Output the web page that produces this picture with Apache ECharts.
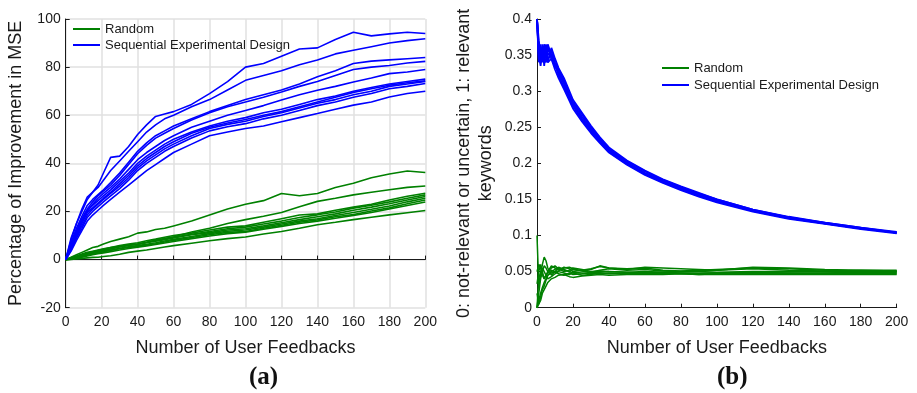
<!DOCTYPE html>
<html><head><meta charset="utf-8">
<script src="https://cdn.jsdelivr.net/npm/echarts@6/dist/echarts.min.js"></script>
<style>html,body{margin:0;padding:0;background:#fff}#c{width:917px;height:393px}</style>
</head><body><div id="c"></div>
<script>
// ---- Panel (a): Percentage of Improvement in MSE ----
const xA = [0,3,6,9,12,15,18,21,25,30,35,40,45,50,55,60,70,80,90,100,110,120,130,140,150,160,170,180,190,200];
const seqA = [
 [0,8,15,21,26,28,31,36,42.5,43,47,52,56,59.5,60.5,61.5,64.5,69,74,80,81.5,84.5,87.5,88,91.5,94.5,93,93.8,94.5,94],
 [0,9,15,20,25,28,30,33,37,41,45,49,53,56,58.5,60,63.5,66.5,70.5,74.5,76.5,78.5,81,83,85.5,87,88.5,90,91,91.8],
 [0,7,13,18,22.5,25,27,29,32,36,40.5,45,48.5,51.5,53.5,55.5,58.5,61.5,64,66.5,68.5,70.5,73,76,78.5,81.5,82.5,83,83.5,84],
 [0,6,12,17,21,24,26.5,28.5,31,35,39.5,44,47.5,50.5,52.5,54.5,58,61,63.5,65.5,67.5,69.7,72,74,76.5,79,80,80.7,81.7,82.4],
 [0,6,11,16,20,23,25.5,27.5,30,33.5,37.5,41.5,44.5,47,49.5,51.5,55,57.5,60,62,64,66.3,68.5,70.4,72,73.8,75.5,77.3,78,79],
 [0,5.5,11,16,20.5,22.5,24.5,26.5,29,32.5,36,40,43,45.5,48,50,53,55.5,57.5,59,61,62.5,64.5,66.5,68,70,71.5,73,74,75],
 [0,5,10,15,19.5,21.5,23.5,25.5,28,31.5,35,39,42,44.5,47,49,52.5,55,56.8,58.2,60,61.5,63.5,65.5,67.5,69.5,71,72.5,73.5,74.3],
 [0,4.5,9.5,14,18.5,21,23,25,27.5,30.5,34,38,41,43.5,46,48,51.5,54.5,56.2,57.5,59.5,61,63,65,66.5,68.5,70,72,73,74],
 [0,4,9,13,17.5,20,22,24,26.5,29.5,33,37,40,42.5,45,47,50.5,53.5,55.2,56.5,58.5,60,62,64,65.5,67.5,69,71,72,73.2],
 [0,3.5,8,12,16,18.5,20.5,22.5,25,28,31,34,37,39.5,42,44.5,48,51.5,53,54.5,55.5,57.3,59,60.7,62.5,64.2,65.5,67.6,69,70]
];
const rndA = [
 [0,1,2,3,4,5,5.5,6.5,7.5,8.5,9.5,11,11.5,12.5,13,14,16,18.5,21,23,24.5,27.5,26.5,27.5,30,31.7,34,35.6,36.8,36.2],
 [0,0.5,1,1.8,2.5,3,3.5,4,4.5,5.5,6,6.5,7.2,8,8.8,9.5,11.5,13,15,16.6,18,19.6,22,24.2,25.5,26.9,28,29,30,30.6],
 [0,0.6,1.3,2,2.6,3.2,3.8,4.3,5,5.8,6.5,7,7.8,8.5,9.3,10,11,12.3,13.5,14,15.5,17,18.5,19,20.5,21.8,23,24.8,26.3,27.6],
 [0,0.4,1,1.6,2.2,2.8,3.3,3.8,4.4,5.2,5.9,6.5,7.2,8,8.6,9.3,10.5,11.7,12.8,13.5,14.8,16,17.5,18.6,19.8,21.4,22.6,24,25.5,26.9],
 [0,0.8,1.5,2.3,3,3.5,4,4.5,5,5.5,6,6.3,7,7.6,8.3,9,10.3,11.2,12.3,12.8,14,15.3,16.6,17.8,19,20.5,21.8,23.2,24.8,26.2],
 [0,0.3,0.8,1.3,1.8,2.3,2.8,3.3,3.9,4.7,5.3,5.8,6.4,7,7.7,8.4,9.6,10.8,11.8,12.3,13.5,14.8,16,17,18.3,19.6,20.9,22.3,24,25.5],
 [0,0.5,1.2,1.8,2.3,2.6,3,3.4,3.9,4.5,5,5.5,6,6.6,7.3,8,9.2,10.3,11.3,11.7,13,14.3,15.5,16.5,17.8,18.7,20.2,21.5,23.2,24.8],
 [0,0.2,0.6,1,1.5,2,2.4,2.8,3.3,4,4.6,5.1,5.7,6.3,6.9,7.5,8.7,9.8,10.8,11.4,12.6,13.8,15,16,17.2,18.3,19.6,21,22.5,23.9],
 [0,0.1,0.3,0.5,0.7,0.9,1,1.3,1.6,2.2,3,3.5,4,4.6,5.2,5.8,6.8,7.8,8.7,9.4,10.6,11.7,13,14.5,15.5,16.6,17.6,18.6,19.5,20.4]
];

// ---- Panel (b): relevant keywords ratio ----
const xB = [0,1,2,3,4,5,6,8,10,12,15,18,20,25,30,35,40,50,60,70,80,90,100,120,140,160,180,200];
const seqB = [
 [0.40,0.34,0.365,0.34,0.36,0.345,0.365,0.35,0.335,0.325,0.31,0.29,0.28,0.262,0.246,0.231,0.218,0.200,0.186,0.175,0.165,0.156,0.148,0.134,0.124,0.117,0.110,0.104],
 [0.40,0.36,0.345,0.365,0.335,0.36,0.35,0.355,0.34,0.33,0.315,0.295,0.285,0.268,0.25,0.234,0.22,0.203,0.189,0.177,0.167,0.158,0.15,0.136,0.125,0.118,0.111,0.104],
 [0.40,0.35,0.335,0.355,0.345,0.34,0.36,0.345,0.33,0.318,0.303,0.287,0.276,0.258,0.242,0.228,0.215,0.198,0.184,0.173,0.163,0.154,0.146,0.133,0.123,0.116,0.109,0.103],
 [0.40,0.37,0.35,0.345,0.365,0.35,0.34,0.36,0.345,0.332,0.318,0.30,0.288,0.27,0.252,0.236,0.222,0.204,0.19,0.178,0.168,0.159,0.15,0.136,0.126,0.118,0.111,0.105],
 [0.40,0.345,0.355,0.35,0.34,0.365,0.345,0.35,0.338,0.322,0.306,0.292,0.28,0.26,0.244,0.23,0.216,0.199,0.185,0.174,0.164,0.155,0.147,0.134,0.124,0.117,0.11,0.104],
 [0.40,0.355,0.34,0.36,0.35,0.355,0.34,0.345,0.335,0.328,0.312,0.294,0.283,0.265,0.248,0.233,0.219,0.201,0.187,0.176,0.166,0.157,0.149,0.135,0.125,0.117,0.11,0.104]
];
const rndB = [
 [0.10,0.03,0.045,0.06,0.07,0.065,0.055,0.045,0.05,0.055,0.052,0.05,0.053,0.051,0.049,0.052,0.054,0.052,0.053,0.051,0.05,0.051,0.052,0.054,0.052,0.051,0.052,0.052],
 [0.0,0.02,0.04,0.05,0.058,0.055,0.05,0.058,0.055,0.052,0.056,0.054,0.05,0.052,0.054,0.057,0.055,0.053,0.056,0.055,0.054,0.053,0.052,0.056,0.055,0.053,0.052,0.051],
 [0.0,0.01,0.02,0.028,0.035,0.04,0.045,0.048,0.05,0.047,0.045,0.048,0.046,0.047,0.049,0.048,0.047,0.048,0.047,0.048,0.048,0.047,0.048,0.049,0.048,0.048,0.049,0.049],
 [0.02,0.005,0.015,0.025,0.03,0.038,0.045,0.05,0.053,0.056,0.053,0.05,0.048,0.045,0.046,0.049,0.05,0.049,0.048,0.047,0.047,0.046,0.047,0.047,0.048,0.047,0.047,0.047],
 [0.05,0.06,0.055,0.045,0.04,0.042,0.05,0.055,0.058,0.054,0.05,0.052,0.055,0.053,0.05,0.051,0.05,0.049,0.05,0.049,0.05,0.05,0.049,0.05,0.05,0.05,0.05,0.05],
 [0.0,0.0,0.01,0.02,0.025,0.03,0.035,0.04,0.042,0.045,0.046,0.043,0.042,0.044,0.045,0.046,0.045,0.046,0.046,0.046,0.047,0.046,0.046,0.046,0.046,0.046,0.046,0.046],
 [0.033,0.05,0.06,0.05,0.04,0.045,0.048,0.052,0.049,0.051,0.055,0.056,0.054,0.051,0.053,0.058,0.055,0.054,0.055,0.052,0.051,0.052,0.053,0.055,0.054,0.052,0.051,0.05],
 [0.0,0.04,0.05,0.055,0.05,0.045,0.04,0.043,0.047,0.05,0.048,0.046,0.049,0.048,0.047,0.047,0.048,0.047,0.049,0.049,0.048,0.048,0.048,0.048,0.047,0.048,0.048,0.048]
];

const GREEN = '#008000', BLUE = '#0000ff', INK = '#1a1a1a';
const FONT = 'Liberation Sans, Arial, sans-serif';
const NAME_R = 'Random', NAME_S = 'Sequential Experimental Design';

function mk(xs, ys, name, color, gi, w) {
  return { type: 'line', name: name, xAxisIndex: gi, yAxisIndex: gi, showSymbol: false, symbol: 'none',
    data: xs.map((x, i) => [x, ys[i]]), lineStyle: { color: color, width: w }, itemStyle: { color: color },
    animation: false, emphasis: { disabled: true } };
}
const series = [];
rndA.forEach(s => series.push(mk(xA, s, NAME_R, GREEN, 0, 1.6)));
seqA.forEach(s => series.push(mk(xA, s, NAME_S, BLUE, 0, 1.6)));
rndB.forEach(s => series.push(mk(xB, s, NAME_R, GREEN, 1, 1.5)));
seqB.forEach(s => series.push(mk(xB, s, NAME_S, BLUE, 1, 1.8)));

function xAx(gi, grid) {
  return { type: 'value', gridIndex: gi, min: 0, max: 200, interval: 20,
    name: 'Number of User Feedbacks', nameLocation: 'middle', nameGap: 31,
    nameTextStyle: { fontFamily: FONT, fontSize: 18, color: INK },
    axisLine: { show: true, lineStyle: { color: INK, width: 1 } },
    axisTick: { show: true, inside: true, length: 4, lineStyle: { color: INK } },
    axisLabel: { fontFamily: FONT, fontSize: 14, color: INK, margin: 7 },
    splitLine: { show: grid, lineStyle: { color: '#e0e0e0', width: 1.5 } } };
}
const option = {
  backgroundColor: '#fff',
  animation: false,
  grid: [
    { left: 65.7, right: 917 - 425.3, top: 19, bottom: 393 - 307.7 },
    { left: 537, right: 917 - 896.7, top: 19, bottom: 393 - 307.7 }
  ],
  xAxis: [xAx(0, true), xAx(1, false)],
  yAxis: [
    { type: 'value', gridIndex: 0, min: -20, max: 100, interval: 20,
      name: 'Percentage of Improvement in MSE', nameLocation: 'middle', nameGap: 41,
      nameTextStyle: { fontFamily: FONT, fontSize: 18, color: INK },
      axisLine: { show: true, lineStyle: { color: INK, width: 1 } },
      axisTick: { show: true, inside: true, length: 4, lineStyle: { color: INK } },
      axisLabel: { fontFamily: FONT, fontSize: 14, color: INK, margin: 5 },
      splitLine: { show: true, lineStyle: { color: '#e0e0e0', width: 1.5 } } },
    { type: 'value', gridIndex: 1, min: 0, max: 0.4, interval: 0.05,
      name: '0: not-relevant or uncertain, 1: relevant\nkeywords', nameLocation: 'middle', nameGap: 40,
      nameTextStyle: { fontFamily: FONT, fontSize: 18, color: INK, lineHeight: 22, align: 'center' },
      axisLine: { show: true, lineStyle: { color: INK, width: 1 } },
      axisTick: { show: true, inside: true, length: 4, lineStyle: { color: INK } },
      axisLabel: { fontFamily: FONT, fontSize: 14, color: INK, margin: 5 },
      splitLine: { show: false } }
  ],
  legend: [
    { orient: 'vertical', left: 73, top: 22, padding: 0, itemWidth: 27, itemHeight: 2, itemGap: 2, icon: 'rect',
      data: [NAME_R, NAME_S], selectedMode: false,
      textStyle: { fontFamily: FONT, fontSize: 13, color: INK, lineHeight: 14 } },
    { orient: 'vertical', left: 662, top: 61, padding: 0, itemWidth: 27, itemHeight: 2, itemGap: 3, icon: 'rect',
      data: [NAME_R, NAME_S], selectedMode: false,
      textStyle: { fontFamily: FONT, fontSize: 13, color: INK, lineHeight: 14 } }
  ],
  graphic: [
    { type: 'text', left: 249, top: 365, style: { text: '(a)', font: 'bold 25px "Liberation Serif", "Times New Roman", serif', fill: '#111' } },
    { type: 'text', left: 717, top: 365, style: { text: '(b)', font: 'bold 25px "Liberation Serif", "Times New Roman", serif', fill: '#111' } }
  ],
  series: series
};
const chart = echarts.init(document.getElementById('c'), null, { renderer: 'canvas' });
chart.setOption(option);
</script></body></html>
